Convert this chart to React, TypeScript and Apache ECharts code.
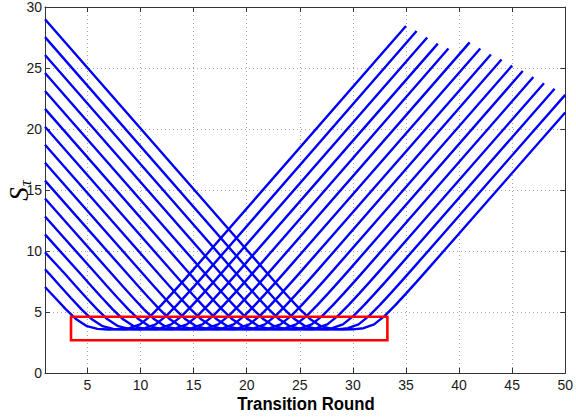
import { useEffect, useRef } from "react";
import * as echarts from "echarts";

// Tick values
const xTicks = [5, 10, 15, 20, 25, 30, 35, 40, 45, 50];
const yTicks = [0, 5, 10, 15, 20, 25, 30];

// Curves: [round, S_tau]
const curve00 = [[1, 29], [22, 8.11], [23, 7.13], [24, 6.17], [25, 5.24], [26, 4.4], [27, 3.84], [28, 3.62], [29, 3.56], [30, 3.58], [31, 3.67], [32, 3.99], [33, 4.68], [34, 5.56], [35, 6.51], [36, 7.47], [37, 8.45], [50, 21.35]];
const curve01 = [[1, 27.53], [20.53, 8.11], [21.53, 7.13], [22.53, 6.17], [23.53, 5.24], [24.53, 4.4], [25.53, 3.84], [26.53, 3.62], [27.53, 3.56], [28.53, 3.58], [29.53, 3.67], [30.53, 3.99], [31.53, 4.68], [32.53, 5.56], [33.53, 6.51], [34.53, 7.47], [35.53, 8.45], [50, 22.8]];
const curve02 = [[1, 26.06], [19.06, 8.11], [20.06, 7.13], [21.06, 6.17], [22.06, 5.24], [23.06, 4.4], [24.06, 3.84], [25.06, 3.62], [26.06, 3.56], [27.06, 3.58], [28.06, 3.67], [29.06, 3.99], [30.06, 4.68], [31.06, 5.56], [32.06, 6.51], [33.06, 7.47], [34.06, 8.45], [49, 23.3]];
const curve03 = [[1, 24.59], [17.59, 8.11], [18.59, 7.13], [19.59, 6.17], [20.59, 5.24], [21.59, 4.4], [22.59, 3.84], [23.59, 3.62], [24.59, 3.56], [25.59, 3.58], [26.59, 3.67], [27.59, 3.99], [28.59, 4.68], [29.59, 5.56], [30.59, 6.51], [31.59, 7.47], [32.59, 8.45], [48, 23.75]];
const curve04 = [[1, 23.12], [16.12, 8.11], [17.12, 7.13], [18.12, 6.17], [19.12, 5.24], [20.12, 4.4], [21.12, 3.84], [22.12, 3.62], [23.12, 3.56], [24.12, 3.58], [25.12, 3.67], [26.12, 3.99], [27.12, 4.68], [28.12, 5.56], [29.12, 6.51], [30.12, 7.47], [31.12, 8.45], [47, 24.26]];
const curve05 = [[1, 21.65], [14.65, 8.11], [15.65, 7.13], [16.65, 6.17], [17.65, 5.24], [18.65, 4.4], [19.65, 3.84], [20.65, 3.62], [21.65, 3.56], [22.65, 3.58], [23.65, 3.67], [24.65, 3.99], [25.65, 4.68], [26.65, 5.56], [27.65, 6.51], [28.65, 7.47], [29.65, 8.45], [46, 24.75]];
const curve06 = [[1, 20.18], [13.18, 8.11], [14.18, 7.13], [15.18, 6.17], [16.18, 5.24], [17.18, 4.4], [18.18, 3.84], [19.18, 3.62], [20.18, 3.56], [21.18, 3.58], [22.18, 3.67], [23.18, 3.99], [24.18, 4.68], [25.18, 5.56], [26.18, 6.51], [27.18, 7.47], [28.18, 8.45], [45, 25.2]];
const curve07 = [[1, 18.71], [11.71, 8.11], [12.71, 7.13], [13.71, 6.17], [14.71, 5.24], [15.71, 4.4], [16.71, 3.84], [17.71, 3.62], [18.71, 3.56], [19.71, 3.58], [20.71, 3.67], [21.71, 3.99], [22.71, 4.68], [23.71, 5.56], [24.71, 6.51], [25.71, 7.47], [26.71, 8.45], [44, 25.7]];
const curve08 = [[1, 17.24], [10.24, 8.11], [11.24, 7.13], [12.24, 6.17], [13.24, 5.24], [14.24, 4.4], [15.24, 3.84], [16.24, 3.62], [17.24, 3.56], [18.24, 3.58], [19.24, 3.67], [20.24, 3.99], [21.24, 4.68], [22.24, 5.56], [23.24, 6.51], [24.24, 7.47], [25.24, 8.45], [43, 26.1]];
const curve09 = [[1, 15.77], [8.77, 8.11], [9.77, 7.13], [10.77, 6.17], [11.77, 5.24], [12.77, 4.4], [13.77, 3.84], [14.77, 3.62], [15.77, 3.56], [16.77, 3.58], [17.77, 3.67], [18.77, 3.99], [19.77, 4.68], [20.77, 5.56], [21.77, 6.51], [22.77, 7.47], [23.77, 8.45], [42, 26.6]];
const curve10 = [[1, 14.3], [7.3, 8.11], [8.3, 7.13], [9.3, 6.17], [10.3, 5.24], [11.3, 4.4], [12.3, 3.84], [13.3, 3.62], [14.3, 3.56], [15.3, 3.58], [16.3, 3.67], [17.3, 3.99], [18.3, 4.68], [19.3, 5.56], [20.3, 6.51], [21.3, 7.47], [22.3, 8.45], [41, 27.1]];
const curve11 = [[1, 12.83], [5.83, 8.11], [6.83, 7.13], [7.83, 6.17], [8.83, 5.24], [9.83, 4.4], [10.83, 3.84], [11.83, 3.62], [12.83, 3.56], [13.83, 3.58], [14.83, 3.67], [15.83, 3.99], [16.83, 4.68], [17.83, 5.56], [18.83, 6.51], [19.83, 7.47], [20.83, 8.45], [39, 26.6]];
const curve12 = [[1, 11.36], [4.36, 8.11], [5.36, 7.13], [6.36, 6.17], [7.36, 5.24], [8.36, 4.4], [9.36, 3.84], [10.36, 3.62], [11.36, 3.56], [12.36, 3.58], [13.36, 3.67], [14.36, 3.99], [15.36, 4.68], [16.36, 5.56], [17.36, 6.51], [18.36, 7.47], [19.36, 8.45], [38, 27.0]];
const curve13 = [[1, 9.89], [2.89, 8.11], [3.89, 7.13], [4.89, 6.17], [5.89, 5.24], [6.89, 4.4], [7.89, 3.84], [8.89, 3.62], [9.89, 3.56], [10.89, 3.58], [11.89, 3.67], [12.89, 3.99], [13.89, 4.68], [14.89, 5.56], [15.89, 6.51], [16.89, 7.47], [17.89, 8.45], [37, 27.5]];
const curve14 = [[1, 8.5], [1.42, 8.11], [2.42, 7.13], [3.42, 6.17], [4.42, 5.24], [5.42, 4.4], [6.42, 3.84], [7.42, 3.62], [8.42, 3.56], [9.42, 3.58], [10.42, 3.67], [11.42, 3.99], [12.42, 4.68], [13.42, 5.56], [14.42, 6.51], [15.42, 7.47], [16.42, 8.45], [36, 28.03]];
const curve15 = [[1, 7.05], [1.95, 6.17], [2.95, 5.24], [3.95, 4.4], [4.95, 3.84], [5.95, 3.62], [6.95, 3.56], [7.95, 3.58], [8.95, 3.67], [9.95, 3.99], [10.95, 4.68], [11.95, 5.56], [12.95, 6.51], [13.95, 7.47], [14.95, 8.45], [35, 28.44]];

const curves = [curve00, curve01, curve02, curve03, curve04, curve05, curve06, curve07, curve08, curve09, curve10, curve11, curve12, curve13, curve14, curve15];

// Highlight box corners (data coordinates)
const boxX = [3.45, 33.25];
const boxY = [2.68, 4.61];

const FONT = '"Liberation Sans", Arial, Helvetica, sans-serif';
const SERIF = '"Liberation Serif", "DejaVu Serif", serif';
const AXIS_COLOR = "#333333";
const GRID_COLOR = "#a8a8a8";

export default function App() {
  const ref = useRef<HTMLDivElement>(null);

  useEffect(() => {
    if (!ref.current) return;
    const chart = echarts.init(ref.current, null, { renderer: "svg" });

    const boxData = [
      [boxX[0], boxY[1]],
      [boxX[1], boxY[1]],
      [boxX[1], boxY[0]],
      [boxX[0], boxY[0]],
      [boxX[0], boxY[1]],
    ];

    const baseAxisLine = { show: true, onZero: false, lineStyle: { color: AXIS_COLOR, width: 1 } };
    const tickStyle = { show: true, inside: true, length: 5, lineStyle: { color: AXIS_COLOR, width: 1 } };

    const option: any = {
      animation: false,
      backgroundColor: "#ffffff",
      grid: { left: 45, right: 8, top: 7, bottom: 46, containLabel: false },
      xAxis: [
        {
          type: "value",
          min: 1,
          max: 50,
          position: "bottom",
          axisLine: baseAxisLine,
          axisTick: { ...tickStyle, customValues: xTicks },
          axisLabel: { customValues: xTicks, margin: 5, fontSize: 14, color: "#1a1a1a", fontFamily: FONT },
          splitLine: { show: true, lineStyle: { color: GRID_COLOR, width: 1, type: [1, 3] } },
        },
        {
          type: "value",
          min: 1,
          max: 50,
          position: "top",
          axisLine: baseAxisLine,
          axisTick: { ...tickStyle, customValues: xTicks },
          axisLabel: { show: false },
          splitLine: { show: false },
        },
      ],
      yAxis: [
        {
          type: "value",
          min: yTicks[0],
          max: yTicks[yTicks.length - 1],
          interval: 5,
          position: "left",
          axisLine: baseAxisLine,
          axisTick: tickStyle,
          axisLabel: { margin: 3, fontSize: 14, color: "#1a1a1a", fontFamily: FONT },
          splitLine: { show: true, lineStyle: { color: GRID_COLOR, width: 1, type: [1, 3] } },
        },
        {
          type: "value",
          min: yTicks[0],
          max: yTicks[yTicks.length - 1],
          interval: 5,
          position: "right",
          axisLine: baseAxisLine,
          axisTick: tickStyle,
          axisLabel: { show: false },
          splitLine: { show: false },
        },
      ],
      series: [
        ...curves.map((c, i) => ({
          name: "curve" + i,
          type: "line",
          data: c,
          xAxisIndex: 0,
          yAxisIndex: 0,
          showSymbol: false,
          symbol: "none",
          silent: true,
          z: 2,
          lineStyle: { color: "#0000ff", width: 2.4 },
        })),
        {
          name: "box",
          type: "line",
          data: boxData,
          xAxisIndex: 0,
          yAxisIndex: 0,
          showSymbol: false,
          symbol: "none",
          silent: true,
          z: 3,
          lineStyle: { color: "#ff0000", width: 2.6, join: "miter", cap: "square" },
        },
      ],
      graphic: [
        {
          type: "text",
          x: 306,
          y: 404,
          scaleX: 0.88,
          style: {
            text: "Transition Round",
            fontSize: 19,
            fontWeight: "bold",
            fontFamily: FONT,
            fill: "#000000",
            textAlign: "center",
            textVerticalAlign: "middle",
          },
        },
        {
          type: "group",
          x: 19,
          y: 194,
          rotation: Math.PI / 2,
          children: [
            {
              type: "text",
              x: 0,
              y: 0,
              style: {
                text: "S",
                fontSize: 27,
                fontStyle: "italic",
                fontFamily: SERIF,
                fill: "#000000",
                textAlign: "center",
                textVerticalAlign: "middle",
              },
            },
            {
              type: "text",
              x: 8,
              y: 6,
              style: {
                text: "τ",
                fontSize: 16,
                fontStyle: "italic",
                fontFamily: SERIF,
                fill: "#000000",
                textAlign: "left",
                textVerticalAlign: "middle",
              },
            },
          ],
        },
      ],
    };

    chart.setOption(option);
    return () => chart.dispose();
  }, []);

  return (
    <div
      ref={ref}
      style={{ position: "absolute", left: 0, top: 0, width: 576, height: 419 }}
    />
  );
}
